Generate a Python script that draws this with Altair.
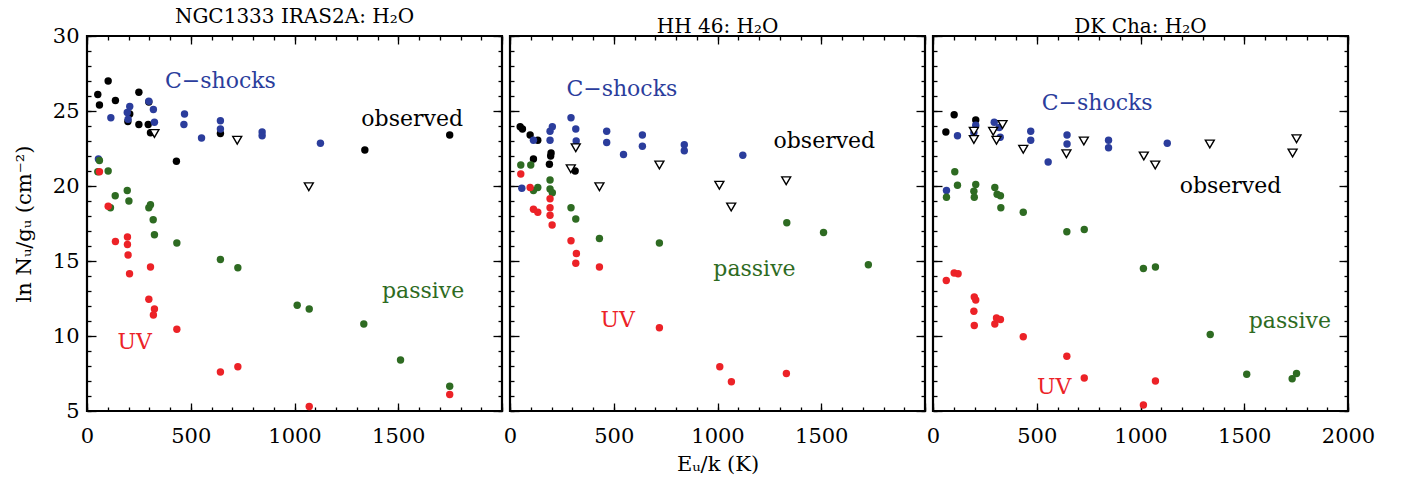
import altair as alt
import pandas as pd

# ---------------- data ----------------
panels = ["NGC1333 IRAS2A: H₂O", "HH 46: H₂O", "DK Cha: H₂O"]

# NGC1333 IRAS2A
p1_obs_E = [52, 60, 102, 137, 250, 298, 206, 197, 250, 295, 306, 431, 643, 1339, 1748]
p1_obs_y = [26.1, 25.4, 27.0, 25.7, 26.25, 25.6, 24.8, 24.3, 24.1, 24.1, 23.55, 21.65, 23.5, 22.4, 23.4]
p1_lim_E = [325, 724, 1069]
p1_lim_y = [23.5, 23.05, 19.95]
p1_cs_E = [55, 115, 194, 206, 198, 298, 320, 325, 470, 467, 552, 643, 643, 844, 844, 1125]
p1_cs_y = [21.8, 24.55, 24.9, 25.3, 24.45, 25.65, 25.1, 24.25, 24.8, 24.1, 23.2, 24.35, 23.8, 23.6, 23.35, 22.85]
p1_pas_E = [60, 52, 102, 113, 136, 194, 202, 298, 306, 319, 325, 433, 643, 727, 1013, 1071, 1334, 1511, 1748]
p1_pas_y = [21.7, 20.95, 21.0, 18.55, 19.35, 19.7, 19.0, 18.55, 18.75, 17.75, 16.75, 16.2, 15.1, 14.55, 12.05, 11.8, 10.8, 8.4, 6.65]
p1_uv_E = [60, 102, 137, 195, 195, 198, 205, 306, 298, 325, 320, 433, 643, 727, 1071, 1748]
p1_uv_y = [20.95, 18.65, 16.3, 16.6, 16.1, 15.4, 14.15, 14.6, 12.45, 11.8, 11.4, 10.45, 7.6, 7.95, 5.3, 6.1]

# HH 46
p2_obs_E = [49, 60, 97, 134, 113, 198, 196, 190, 314]
p2_obs_y = [23.95, 23.8, 23.4, 23.05, 21.8, 22.2, 22.0, 21.45, 21.0]
p2_lim_E = [317, 293, 431, 720, 1009, 1066, 1331]
p2_lim_y = [22.55, 21.15, 19.95, 21.4, 20.05, 18.6, 20.35]
p2_cs_E = [113, 57, 193, 204, 193, 294, 317, 319, 466, 466, 547, 638, 638, 840, 840, 1122]
p2_cs_y = [23.05, 19.85, 23.65, 23.95, 23.05, 24.55, 23.8, 23.0, 23.65, 22.9, 22.1, 23.4, 22.65, 22.75, 22.35, 22.05]
p2_pas_E = [52, 100, 113, 134, 193, 193, 204, 294, 317, 431, 720, 1334, 1511, 1727]
p2_pas_y = [21.4, 21.4, 19.7, 19.9, 20.4, 19.8, 19.55, 18.55, 17.8, 16.5, 16.2, 17.55, 16.9, 14.75]
p2_uv_E = [52, 97, 113, 134, 193, 193, 193, 203, 294, 320, 317, 431, 720, 1011, 1067, 1332]
p2_uv_y = [20.8, 19.9, 18.45, 18.25, 19.15, 18.55, 18.05, 17.4, 16.35, 15.5, 14.85, 14.6, 10.55, 7.95, 6.95, 7.5]

# DK Cha
p3_obs_E = [62, 102, 206]
p3_obs_y = [23.6, 24.75, 24.4]
p3_lim_E = [197, 197, 290, 306, 335, 435, 643, 727, 1016, 1071, 1334, 1733, 1752]
p3_lim_y = [23.65, 23.1, 23.65, 23.05, 24.1, 22.45, 22.15, 23.0, 22.0, 21.4, 22.8, 22.2, 23.15]
p3_cs_E = [65, 118, 206, 197, 295, 319, 324, 471, 471, 555, 646, 646, 846, 846, 1129]
p3_cs_y = [19.7, 23.35, 24.05, 23.55, 24.25, 23.9, 23.25, 23.65, 23.05, 21.6, 23.4, 22.8, 23.05, 22.55, 22.85]
p3_pas_E = [65, 105, 118, 206, 197, 199, 298, 309, 325, 327, 435, 645, 729, 1014, 1072, 1336, 1512, 1731, 1752]
p3_pas_y = [19.25, 20.95, 20.05, 20.1, 19.65, 19.25, 19.9, 19.45, 19.35, 18.55, 18.25, 16.95, 17.1, 14.5, 14.6, 10.1, 7.45, 7.15, 7.5]
p3_uv_E = [64, 102, 121, 199, 206, 197, 199, 298, 306, 325, 435, 645, 729, 1014, 1072]
p3_uv_y = [13.7, 14.2, 14.15, 12.6, 12.4, 11.65, 10.7, 10.8, 11.2, 11.1, 9.95, 8.65, 7.2, 5.4, 7.0]

# in-panel labels
label_text = ["C−shocks", "observed", "passive", "UV"]
label_series = ["cs", "obs", "pas", "uv"]
p1_lab_E = [643, 1567, 1620, 230]
p1_lab_y = [27.0, 24.45, 13.0, 9.6]
p2_lab_E = [539, 1515, 1178, 519]
p2_lab_y = [26.5, 23.0, 14.5, 11.1]
p3_lab_E = [791, 1434, 1720, 584]
p3_lab_y = [25.55, 20.0, 11.0, 6.6]

series_domain = ["obs", "cs", "pas", "uv"]
series_range = ["#000000", "#2b3d9c", "#2e6b22", "#ec2227"]

FONT = "DejaVu Serif"

# ---------------- build tables ----------------
raw = {
    0: dict(obs=(p1_obs_E, p1_obs_y), lim=(p1_lim_E, p1_lim_y), cs=(p1_cs_E, p1_cs_y),
            pas=(p1_pas_E, p1_pas_y), uv=(p1_uv_E, p1_uv_y), lab=(p1_lab_E, p1_lab_y)),
    1: dict(obs=(p2_obs_E, p2_obs_y), lim=(p2_lim_E, p2_lim_y), cs=(p2_cs_E, p2_cs_y),
            pas=(p2_pas_E, p2_pas_y), uv=(p2_uv_E, p2_uv_y), lab=(p2_lab_E, p2_lab_y)),
    2: dict(obs=(p3_obs_E, p3_obs_y), lim=(p3_lim_E, p3_lim_y), cs=(p3_cs_E, p3_cs_y),
            pas=(p3_pas_E, p3_pas_y), uv=(p3_uv_E, p3_uv_y), lab=(p3_lab_E, p3_lab_y)),
}

xs = alt.Scale(domain=[0, 2000], nice=False, zero=False)
ys = alt.Scale(domain=[5, 30], nice=False, zero=False)
cscale = alt.Scale(domain=series_domain, range=series_range)

x_major = [0, 500, 1000, 1500, 2000]
x_minor = list(range(0, 2001, 100))
y_major = [5, 10, 15, 20, 25, 30]
y_minor = list(range(5, 31, 1))


def ax(orient, values, size, **kw):
    # axis pulled inside the frame by its tick length, so ticks point inward
    base = dict(orient=orient, values=values, tickSize=size, offset=-size,
                tickColor="black", tickWidth=1.3, domain=False, grid=False,
                labelFlush=False, labelOverlap=False)
    base.update(kw)
    if "labels" not in base:
        base["labels"] = False
    return alt.Axis(**base)


def panel(i):
    r = raw[i]
    circ = []
    for s in ["obs", "cs", "pas", "uv"]:
        E, y = r[s]
        circ += [{"E": e, "v": v, "series": s} for e, v in zip(E, y)]
    dc = pd.DataFrame(circ)
    dt = pd.DataFrame({"E": r["lim"][0], "v": r["lim"][1]})
    dl = pd.DataFrame({"E": r["lab"][0], "v": r["lab"][1], "label": label_text, "series": label_series})

    xlab = "datum.value == 2000 ? '' : format(datum.value, 'd')" if i < 2 else "format(datum.value, 'd')"
    xkw = dict(labels=True, labelFont=FONT, labelFontSize=21, labelPadding=14,
               labelColor="black", labelExpr=xlab)
    if i == 1:
        xkw.update(title="Eᵤ/k (K)", titleFont=FONT, titleFontSize=21,
                   titleFontWeight="normal", titlePadding=7, titleColor="black")
    ykw = {}
    if i == 0:
        ykw = dict(labels=True, labelFont=FONT, labelFontSize=21, labelPadding=8,
                   labelColor="black", title="ln Nᵤ/gᵤ (cm⁻²)", titleFont=FONT,
                   titleFontSize=21, titleFontWeight="normal", titlePadding=18, titleColor="black")

    xb = ax("bottom", x_major, 8, **xkw)
    yl = ax("left", y_major, 9, **ykw)

    def X(axis, titled=False):
        if titled:
            return alt.X("E:Q", scale=xs, axis=axis)
        return alt.X("E:Q", scale=xs, axis=axis, title=None)

    def Y(axis, titled=False):
        if titled:
            return alt.Y("v:Q", scale=ys, axis=axis)
        return alt.Y("v:Q", scale=ys, axis=axis, title=None)

    l_circ = alt.Chart(dc).mark_circle(size=55, opacity=1, clip=True).encode(
        x=X(xb, titled=(i == 1)), y=Y(yl, titled=(i == 0)),
        color=alt.Color("series:N", scale=cscale, legend=None),
    )
    l_tri = alt.Chart(dt).mark_point(shape="triangle-down", size=80, filled=True, color="white",
                                     stroke="black", strokeWidth=1.4, opacity=1).encode(
        x=X(ax("bottom", x_minor, 4)), y=Y(ax("left", y_minor, 4)),
    )
    l_top = alt.Chart(dc).mark_circle(opacity=0).encode(
        x=X(ax("top", x_major, 8)), y=Y(ax("right", y_major, 9)),
    )
    l_top2 = alt.Chart(dc).mark_circle(opacity=0).encode(
        x=X(ax("top", x_minor, 4)), y=Y(ax("right", y_minor, 4)),
    )
    l_txt = alt.Chart(dl).mark_text(font=FONT, fontSize=22, align="center", baseline="middle").encode(
        x=alt.X("E:Q", scale=xs, axis=None), y=alt.Y("v:Q", scale=ys, axis=None),
        text="label:N",
        color=alt.Color("series:N", scale=cscale, legend=None),
    )
    return alt.layer(l_circ, l_tri, l_top, l_top2, l_txt).resolve_axis(
        x="independent", y="independent"
    ).properties(
        width=415, height=375,
        title=alt.TitleParams(panels[i], font=FONT, fontSize=20, fontWeight="normal",
                              anchor="middle", offset=-2, color="black"),
    )


chart = alt.hconcat(panel(0), panel(1), panel(2), spacing=8, bounds="flush").configure_view(
    stroke="black", strokeWidth=2.2
).configure_axis(grid=False).properties(
    padding={"left": 12, "top": 5, "right": 5, "bottom": 5}, background="white"
)

chart.save("out.html", embed_options={"renderer": "svg", "actions": False})
